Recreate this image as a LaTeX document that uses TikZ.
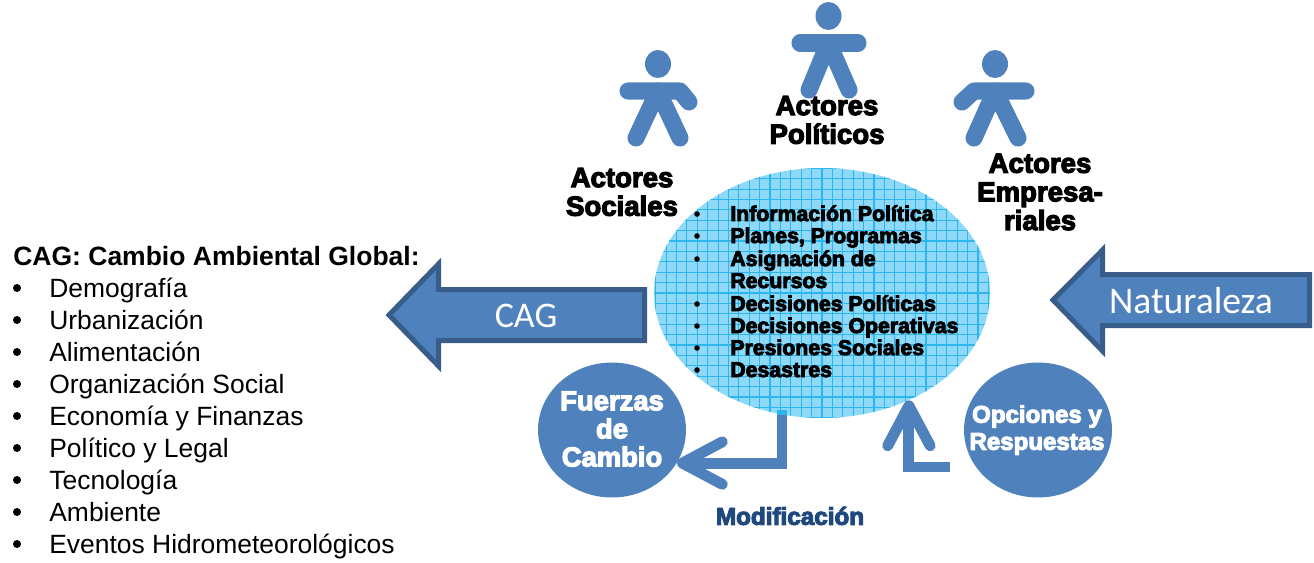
\documentclass[tikz,border=0pt]{standalone}
\usepackage{fontspec}
\usepackage{tikz}
\usetikzlibrary{shapes.geometric, arrows.meta}
\setmainfont{Liberation Sans}
\newfontfamily\heavyfont[FakeBold=4.2]{Liberation Sans Bold}
\newfontfamily\calfont{Carlito}
\definecolor{figblue}{HTML}{4F81BD}
\definecolor{darkedge}{HTML}{385D8A}
\definecolor{planfill}{HTML}{8FD9F8}
\definecolor{planline}{HTML}{2DB5EE}
\definecolor{navytext}{HTML}{1F497D}
\tikzset{
    limb/.style={figblue, line width=9.7pt, line cap=round, line join=round},
    blob/.style={ellipse, fill=figblue, inner sep=0pt, minimum width=2.96cm, minimum height=2.7cm},
    bigarrow/.style={fill=figblue, draw=darkedge, line width=2.85pt, line join=miter},
    arrowtext/.style={text=white, font=\calfont\fontsize{20.5}{24}\selectfont},
    actor/.style={align=center, font=\heavyfont\fontsize{15.7}{16.3}\selectfont},
    heavyitem/.style={anchor=base west, inner sep=0pt, font=\heavyfont\fontsize{12.1}{14}\selectfont},
    plainitem/.style={anchor=base west, inner sep=0pt, font=\fontsize{15.05}{18}\selectfont},
    flow/.style={figblue, line width=6.2pt, -{Straight Barb[round, length=8mm, width=8.5mm]}}
}
\begin{document}
\begin{tikzpicture}[x=0.02cm, y=-0.02cm]
    \useasboundingbox (0,0) rectangle (1314,562);
    % central ellipse with its grid
    \node[ellipse, fill=planfill, inner sep=0pt, minimum width=6.72cm, minimum height=5cm,
        path picture={\draw[step=2.08mm, planline, line width=0.6pt] (-180,-135) grid (180,135);}] (plan) at (822,293) {};
    % actors
    \fill[figblue] (658,64) ellipse (13 and 14);
    \draw[limb] (628,91) -- (680,91) -- (689,102);
    \draw[limb] (636,138) -- (658,91) -- (680,138);
    \fill[figblue] (828.5,16) ellipse (13 and 14);
    \draw[limb] (800,43) -- (858,43);
    \draw[limb] (809,90) -- (828.5,43) -- (849,90);
    \fill[figblue] (995,64) ellipse (13 and 14);
    \draw[limb] (1026,91) -- (974,91) -- (962,102);
    \draw[limb] (974,138) -- (995,91) -- (1018,138);
    \node[actor] (politicos) at (827,120) {Actores\\Políticos};
    \node[actor] (sociales) at (622,192) {Actores\\Sociales};
    \node[actor] (empresa) at (1040,192) {Actores\\Empresa-\\riales};
    % list inside the ellipse
    \foreach \y/\lbl [count=\n] in {221/Información Política, 243/{Planes, Programas}, 266/Asignación de,
            311/Decisiones Políticas, 333/Decisiones Operativas, 355/Presiones Sociales, 377/Desastres} {
            \node[heavyitem] (plan\n) at (730,\y) {\lbl};
            \fill[black] (697,\y-7) circle (2.8);
        }
    \node[heavyitem] (planrec) at (730,288) {Recursos};
    % big arrows
    \draw[bigarrow] (644.5,289.5) -- (438.5,289.5) -- (438.5,264) -- (389,315) -- (438.5,366) -- (438.5,340.5) -- (644.5,340.5) -- cycle;
    \node[arrowtext] (cag) at (526,316) {CAG};
    \draw[bigarrow] (1309.5,274.5) -- (1102.5,274.5) -- (1102.5,250) -- (1053,300) -- (1102.5,351) -- (1102.5,325.5) -- (1309.5,325.5) -- cycle;
    \node[arrowtext, font=\calfont\fontsize{21.4}{24}\selectfont] (natur) at (1191,301) {Naturaleza};
    % circles and their connectors
    \node[blob] (fuerzas) at (612,430) {};
    \node[blob] (opciones) at (1038,430) {};
    \node[align=center, text=white, font=\heavyfont\fontsize{15.6}{16}\selectfont] (fuerzastext) at (612,429) {Fuerzas\\de\\Cambio};
    \node[align=center, text=white, font=\heavyfont\fontsize{13.7}{15.4}\selectfont] (opcionestext) at (1037,430) {Opciones y\\Respuestas};
    \coordinate (modstart) at (782,410);
    \coordinate (modedge) at (782,415);
    \coordinate (optstart) at (950,467);
    \draw[flow] (modstart) |- (fuerzas.-27);
    \draw[line width=6.2pt, planline] (modstart) -- (modedge);
    \draw[flow] (optstart) -| (plan.-51);
    \node[font=\heavyfont\fontsize{13.8}{14}\selectfont, text=navytext] (modif) at (790,516) {Modificación};
    % left list
    \node[anchor=base west, inner sep=0pt, font=\bfseries\fontsize{15.08}{18}\selectfont] (title) at (13,265) {CAG: Cambio Ambiental Global:};
    \foreach \y/\lbl [count=\n] in {297/Demografía, 329/Urbanización, 361/Alimentación, 393/Organización Social,
            425/Economía y Finanzas, 457/Político y Legal, 489/Tecnología, 521/Ambiente, 553/Eventos Hidrometeorológicos} {
            \node[plainitem] (cag\n) at (49,\y) {\lbl};
            \fill[black] (17,\y-9) circle (4);
        }
\end{tikzpicture}
\end{document}
